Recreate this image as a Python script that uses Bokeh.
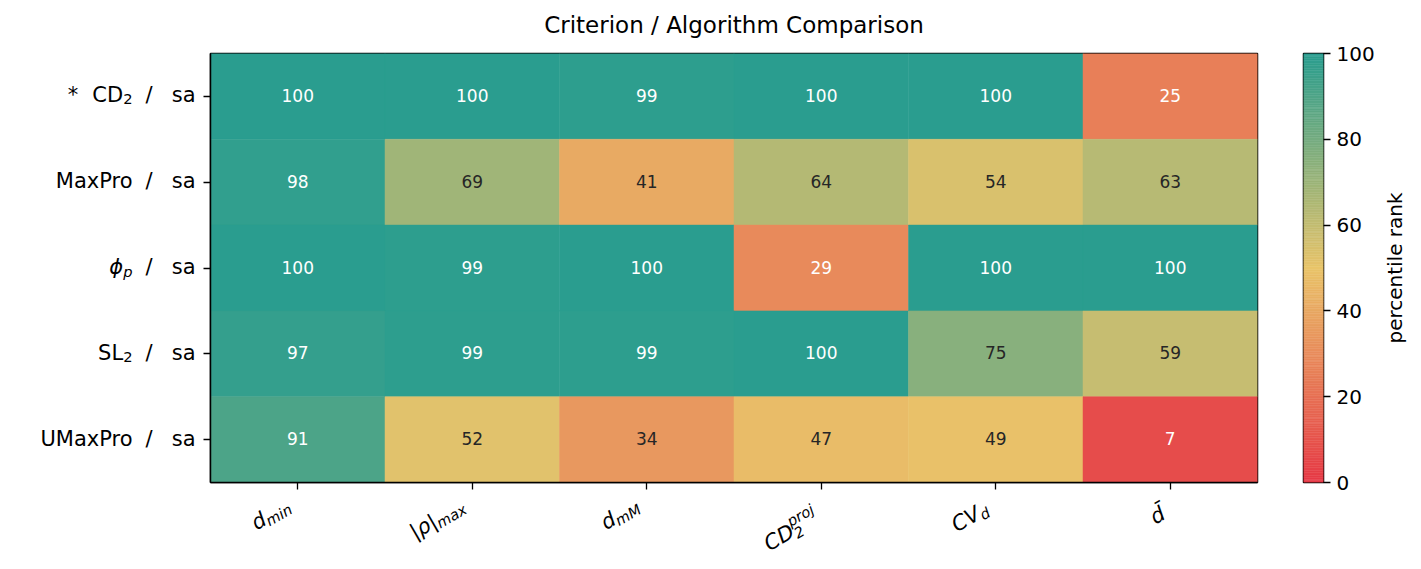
import math
import numpy as np
from bokeh.plotting import figure
from bokeh.models import Range1d, FixedTicker, ColumnDataSource
from bokeh.layouts import row, column
from bokeh.transform import linear_cmap
from bokeh.core.properties import value
from bokeh.embed import file_html
from bokeh.resources import INLINE

# ---------------- data ----------------
title_text = "Criterion / Algorithm Comparison"
algorithm = "sa"
# criterion names of the rows, as (text, role) pieces: role n = normal, s = subscript
row_names = [
    [("*", "star"), ("CD", "n"), ("2", "s")],
    [("MaxPro", "n")],
    [("\u03d5", "ni"), ("p", "si")],
    [("SL", "n"), ("2", "s")],
    [("UMaxPro", "n")],
]
col_keys = ["d_min", "rho_max", "d_mM", "CD2_proj", "CV_d", "d_bar"]
vals_cd2 = [100, 100, 99, 100, 100, 25]
vals_maxpro = [98, 69, 41, 64, 54, 63]
vals_phip = [100, 99, 100, 29, 100, 100]
vals_sl2 = [97, 99, 99, 100, 75, 59]
vals_umaxpro = [91, 52, 34, 47, 49, 7]
all_rows = [vals_cd2, vals_maxpro, vals_phip, vals_sl2, vals_umaxpro]
cbar_ticks = [0, 20, 40, 60, 80, 100]
cbar_label = "percentile rank"

# ---------------- colours ----------------
stops = ["#e63946", "#e9c46a", "#2a9d8f"]
def hex2rgb(h):
    return tuple(int(h[i:i + 2], 16) for i in (1, 3, 5))
def make_palette(stops, n=256):
    cols = [hex2rgb(s) for s in stops]
    out = []
    for i in range(n):
        t = i / (n - 1) * (len(cols) - 1)
        k = min(int(t), len(cols) - 2)
        f = t - k
        c = [round(cols[k][j] + (cols[k + 1][j] - cols[k][j]) * f) for j in range(3)]
        out.append("#%02x%02x%02x" % tuple(c))
    return out
palette = make_palette(stops)

FONT = "DejaVu Sans"
TICK_FS = 21
SUB_FS = 14.7
EM = {"d": .635, "m": .974, "i": .278, "n": .634, "|": .337, "\u03c1": .635, "a": .613,
      "x": .592, "M": .863, "C": .698, "D": .770, "2": .636, "p": .635, "r": .411,
      "o": .612, "j": .278, "V": .684, "\u0304": 0.0, "S": .635, "L": .557, "U": .732,
      "P": .603, "\u03d5": .655, "*": .500, "s": .521, "/": .337}
def tw(s, fs):
    return sum(EM.get(ch, .6) for ch in s) * fs

# overall geometry (pixels)
TOTAL_H = 569
FRAME_TOP, FRAME_BOTTOM = 53, 482
TITLE_H = 51          # height of the title strip
P_TOP = FRAME_TOP - TITLE_H
LEFT_W = 198          # width of the y-label strip
P_LEFT = 12           # left border of heat map (tick marks)
FRAME_W = 1047
P_RIGHT = 23
P_BOTTOM = 10
MAIN_W = P_LEFT + FRAME_W + P_RIGHT
MAIN_H = FRAME_BOTTOM + P_BOTTOM - TITLE_H
LAB_H = TOTAL_H - FRAME_BOTTOM - P_BOTTOM

def blank(fig):
    fig.xgrid.visible = False
    fig.ygrid.visible = False
    fig.outline_line_color = None
    fig.background_fill_color = "white"
    fig.border_fill_color = "white"

# ---------------- title strip ----------------
tf = figure(width=MAIN_W, height=TITLE_H, output_backend="svg", toolbar_location=None,
            x_range=Range1d(0, 1), y_range=Range1d(0, 1),
            x_axis_location=None, y_axis_location=None,
            min_border_left=P_LEFT, min_border_right=P_RIGHT, min_border_top=0,
            min_border_bottom=0, title=title_text)
blank(tf)
tf.title.align = "center"
tf.title.vertical_align = "middle"
tf.title.text_font = FONT
tf.title.text_font_size = "23px"
tf.title.text_font_style = "normal"
tf.title.text_color = "black"
tf.title.standoff = 21

# ---------------- main heat map ----------------
xs, ys, vs, txt, tcol = [], [], [], [], []
nrows = len(all_rows)
ncols = len(col_keys)
for r, rv in enumerate(all_rows):
    for c, v in enumerate(rv):
        xs.append(c + 0.5)
        ys.append(nrows - r - 0.5)
        vs.append(v)
        txt.append(str(v))
        tcol.append("white" if (v >= 85 or v <= 30) else "#262626")
src = ColumnDataSource(dict(x=xs, y=ys, v=vs, t=txt, tc=tcol))

p = figure(width=MAIN_W, height=MAIN_H, output_backend="svg", toolbar_location=None,
           x_range=Range1d(0, ncols), y_range=Range1d(0, nrows),
           min_border_left=P_LEFT, min_border_right=P_RIGHT, min_border_top=P_TOP,
           min_border_bottom=P_BOTTOM)

cmap = linear_cmap("v", palette, 0, 100)
p.rect(x="x", y="y", width=1, height=1, source=src, fill_color=cmap,
       line_color=cmap, line_width=0.5)
p.text(x="x", y="y", text="t", source=src, text_color="tc", text_align="center",
       text_baseline="middle", text_font=value(FONT), text_font_size="17px",
       y_offset=-1)

p.xgrid.visible = False
p.ygrid.visible = False
p.outline_line_color = "black"
p.outline_line_width = 1.5

for ax in (p.xaxis[0], p.yaxis[0]):
    ax.axis_line_color = "black"
    ax.axis_line_width = 1.5
    ax.major_tick_line_color = "black"
    ax.major_tick_line_width = 1.3
    ax.major_tick_out = 7
    ax.major_tick_in = 0
    ax.minor_tick_out = 0
    ax.minor_tick_in = 0
    ax.major_label_standoff = 0
    ax.major_label_text_font_size = "1px"
p.yaxis.ticker = FixedTicker(ticks=[nrows - r - 0.5 for r in range(nrows)])
p.yaxis.major_label_overrides = {nrows - r - 0.5: "" for r in range(nrows)}
p.xaxis.ticker = FixedTicker(ticks=[c + 0.5 for c in range(ncols)])
p.xaxis.major_label_overrides = {c + 0.5: "" for c in range(ncols)}

# ---------------- y labels strip ----------------
lf = figure(width=LEFT_W, height=TOTAL_H, output_backend="svg", toolbar_location=None,
            x_range=Range1d(0, LEFT_W), y_range=Range1d(0, nrows),
            x_axis_location=None, y_axis_location=None,
            min_border_left=0, min_border_right=0, min_border_top=FRAME_TOP,
            min_border_bottom=TOTAL_H - FRAME_BOTTOM)
blank(lf)
BASE_DY = -1.0         # baseline shift below the row centre
SUB_DY = 4.0
Y_SA_RIGHT = 195
Y_SLASH_RIGHT = 152
Y_NAME_RIGHT = 132
ylab = dict(x=[], y=[], t=[], fs=[], st=[], dy=[])
def add_y(x, y, t, fs, st, dy):
    ylab["x"].append(x); ylab["y"].append(y); ylab["t"].append(t)
    ylab["fs"].append(f"{fs}px"); ylab["st"].append(st); ylab["dy"].append(dy)
for r, pieces in enumerate(row_names):
    yc = nrows - r - 0.5
    add_y(Y_SA_RIGHT, yc, algorithm, TICK_FS, "normal", BASE_DY)
    add_y(Y_SLASH_RIGHT, yc, "/", TICK_FS, "normal", BASE_DY)
    right = Y_NAME_RIGHT
    for text, role in reversed(pieces):
        if role == "star":
            right -= 14
            add_y(right, yc, text, TICK_FS, "normal", BASE_DY)
            right -= tw(text, TICK_FS)
            continue
        fs = SUB_FS if role.startswith("s") else TICK_FS
        st = "italic" if role.endswith("i") else "normal"
        dy = BASE_DY + (SUB_DY if role.startswith("s") else 0)
        add_y(right, yc, text, fs, st, dy)
        right -= tw(text, fs)
lf.text(x="x", y="y", text="t", source=ColumnDataSource(ylab), text_align="right",
        text_baseline="alphabetic", text_font=value(FONT), text_font_size="fs",
        text_font_style="st", y_offset="dy", text_color="black")

# ---------------- rotated x labels strip ----------------
lab = figure(width=MAIN_W, height=LAB_H, output_backend="svg", toolbar_location=None,
             x_range=Range1d(0, ncols), y_range=Range1d(0, LAB_H),
             x_axis_location=None, y_axis_location=None,
             min_border_left=P_LEFT, min_border_right=P_RIGHT, min_border_top=0,
             min_border_bottom=0)
blank(lab)
SUBDROP = 4.5
SUPRISE = 9.0
label_groups = {
    "d_min": [[("d", TICK_FS, 0)], [("min", SUB_FS, -SUBDROP)]],
    "rho_max": [[("|\u03c1|", TICK_FS, 0)], [("max", SUB_FS, -SUBDROP)]],
    "d_mM": [[("d", TICK_FS, 0)], [("mM", SUB_FS, -SUBDROP)]],
    "CD2_proj": [[("CD", TICK_FS, 0)], [("2", SUB_FS, -5.5), ("proj", SUB_FS, SUPRISE)]],
    "CV_d": [[("CV", TICK_FS, 0)], [("d", SUB_FS, -SUBDROP)]],
    "d_bar": [[("d\u0304", TICK_FS, 0)]],
}
theta = math.radians(30)
ux, uy = math.cos(theta), -math.sin(theta)       # along baseline (screen, y down)
vx, vy = -math.sin(theta), -math.cos(theta)      # text "up"
ASC, DESC = 0.74, 0.22
LAB_TOP = 498          # top of rotated label boxes (overall y)
LAB_RIGHT_GAP = 7      # right edge of boxes left of the tick
xl = dict(x=[], y=[], t=[], fs=[], dx=[])
for c, key in enumerate(col_keys):
    groups = label_groups[key]
    placed = []
    along = 0.0
    for g in groups:
        gw = max(tw(s, fs) for s, fs, _ in g)
        for s, fs, shift in g:
            placed.append((s, fs, along, shift))
        along += gw
    pts = []
    for s, fs, a0, shift in placed:
        w = tw(s, fs)
        asc = ASC * fs
        dsc = DESC * fs if any(ch in "pj\u03c1|" for ch in s) else 0.0
        for a in (a0, a0 + w):
            for perp in (shift + asc, shift - dsc):
                pts.append((a * ux + perp * vx, a * uy + perp * vy))
    maxx = max(q[0] for q in pts)
    miny = min(q[1] for q in pts)
    sx0 = -LAB_RIGHT_GAP - maxx          # relative to the tick x
    sy0 = LAB_TOP - miny                 # overall y
    for s, fs, a0, shift in placed:
        px_ = sx0 + a0 * ux + shift * vx
        py_ = sy0 + a0 * uy + shift * vy
        xl["x"].append(c + 0.5)
        xl["y"].append(TOTAL_H - py_)
        xl["t"].append(s)
        xl["fs"].append(f"{fs}px")
        xl["dx"].append(px_)
lab.text(x="x", y="y", text="t", source=ColumnDataSource(xl), x_offset="dx",
         angle=theta, text_align="left", text_baseline="alphabetic",
         text_font=value(FONT), text_font_size="fs", text_font_style="italic",
         text_color="black")

# ---------------- colour bar ----------------
CB_W = 100
cb = figure(width=CB_W, height=TOTAL_H, output_backend="svg", toolbar_location=None,
            x_range=Range1d(0, 1), y_range=Range1d(0, 100),
            x_axis_location=None, y_axis_location="right",
            min_border_left=23, min_border_right=CB_W - 43, min_border_top=FRAME_TOP,
            min_border_bottom=TOTAL_H - FRAME_BOTTOM)
edges = np.linspace(0, 100, len(palette) + 1)
cb.quad(left=0, right=1, bottom=edges[:-1], top=edges[1:], fill_color=palette,
        line_color=palette, line_width=0.5)
cb.xgrid.visible = False
cb.ygrid.visible = False
cb.outline_line_color = "black"
cb.outline_line_width = 1.5
ya = cb.yaxis[0]
ya.ticker = FixedTicker(ticks=cbar_ticks)
ya.axis_line_color = None
ya.major_tick_line_color = "black"
ya.major_tick_line_width = 1.3
ya.major_tick_out = 7
ya.major_tick_in = 0
ya.minor_tick_out = 0
ya.minor_tick_in = 0
ya.major_label_text_font = FONT
ya.major_label_text_font_size = "20px"
ya.major_label_text_color = "black"
ya.major_label_standoff = 6

CBL_W = 1421 - LEFT_W - MAIN_W - CB_W
cbl = figure(width=CBL_W, height=TOTAL_H, output_backend="svg", toolbar_location=None,
             x_range=Range1d(0, CBL_W), y_range=Range1d(0, 100),
             x_axis_location=None, y_axis_location=None,
             min_border_left=0, min_border_right=0, min_border_top=FRAME_TOP,
             min_border_bottom=TOTAL_H - FRAME_BOTTOM)
blank(cbl)
cbl.text(x=[14], y=[50], text=[cbar_label], angle=math.pi / 2, text_align="center",
         text_baseline="middle", text_font=value(FONT), text_font_size="20px",
         text_color="black")

layout = row(lf, column(tf, p, lab, spacing=0), cb, cbl, spacing=0)
open("out.html", "w").write(file_html(layout, INLINE))
